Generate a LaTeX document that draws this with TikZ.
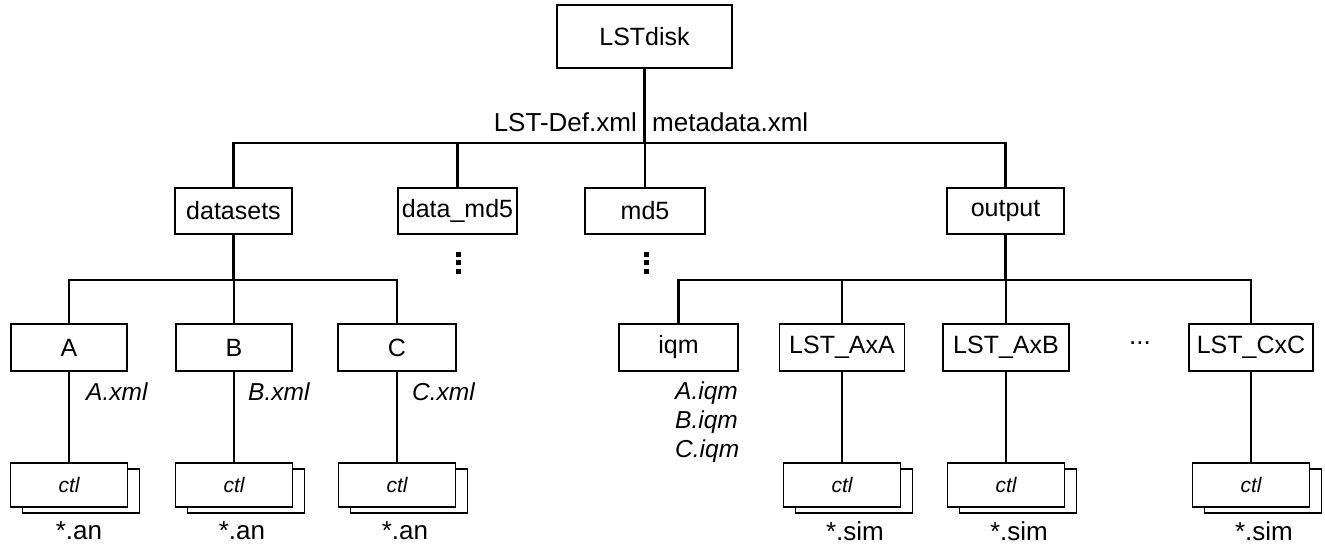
\documentclass[tikz,border=0pt]{standalone}
\usepackage{fontspec}
\setmainfont{Liberation Sans}
\begin{document}
\begin{tikzpicture}[x=1pt,y=-1pt,
  box/.style={draw,line width=1.6pt,minimum height=46pt,inner sep=0pt,font=\fontsize{25}{28}\selectfont},
  conn/.style={line width=2.2pt},
  lbl/.style={font=\fontsize{26}{29}\selectfont,inner sep=0pt},
  ilbl/.style={font=\fontsize{24.5}{27}\selectfont\itshape,inner sep=0pt},
  ctlbox/.style={draw,fill=white,line width=1.6pt,minimum width=117pt,minimum height=44pt,inner sep=0pt,font=\fontsize{21}{23}\selectfont\itshape},
  dotsq/.style={fill=black,minimum size=5pt,inner sep=0pt}
]
\useasboundingbox (0,0) rectangle (1325,545);

% root
\node[box,line width=1.2pt,minimum width=175pt,minimum height=63pt] (root) at (644.5,36.5) {LSTdisk};

% level 2
\node[box,minimum width=117pt] (datasets) at (233.5,211) {datasets};
\node[box,minimum width=119pt] (datamd5) at (457.5,211) {data\_md5};
\node[box,minimum width=120pt] (md5) at (645,211) {md5};
\node[box,minimum width=117pt] (output) at (1005.5,211) {output};

% level 3
\node[box,minimum width=116pt,minimum height=47pt] (A) at (69,347.5) {A};
\node[box,minimum width=116pt,minimum height=47pt] (B) at (234,347.5) {B};
\node[box,minimum width=118pt,minimum height=47pt] (C) at (397,347.5) {C};
\node[box,minimum width=119pt,minimum height=47pt] (iqm) at (678.5,347.5) {iqm};
\node[box,minimum width=125pt,minimum height=47pt] (axa) at (842,347.5) {LST\_AxA};
\node[box,minimum width=126pt,minimum height=47pt] (axb) at (1006,347.5) {LST\_AxB};
\node[box,minimum width=124pt,minimum height=47pt] (cxc) at (1251,347.5) {LST\_CxC};
\node[lbl] (ell) at (1140,343) {...};

% ctl stacks
\foreach \n/\x in {A/69,B/234,C/397,axa/842,axb/1006,cxc/1251}{
  \node[ctlbox] (ctlback\n) at (\x+12,491) {};
  \node[ctlbox] (ctl\n) at (\x,485) {ctl};
}

% bus coordinates
\coordinate (b1) at (0,143);
\coordinate (b2) at (0,280);

% connectors top
\draw[conn] (root.south) -- (root.south |- b1);
\draw[conn] (datasets.north) -- (datasets.north |- b1) -| (output.north);
\draw[conn] (datamd5.north) -- (datamd5.north |- b1);
\draw[conn] (md5.north) -- (md5.north |- b1);

% datasets subtree
\draw[conn] (datasets.south) -- (datasets.south |- b2);
\draw[conn] (A.north) -- (A.north |- b2) -| (C.north);
\draw[conn] (B.north) -- (B.north |- b2);

% output subtree
\draw[conn] (output.south) -- (output.south |- b2);
\draw[conn] (iqm.north) -- (iqm.north |- b2) -| (cxc.north);
\draw[conn] (axa.north) -- (axa.north |- b2);
\draw[conn] (axb.north) -- (axb.north |- b2);

% down to ctl
\foreach \n in {A,B,C,axa,axb,cxc}{
  \draw[conn] (\n.south) -- (ctl\n.north);
}

% vertical dots
\foreach \c/\x in {d1/458,d2/646}{
  \node[dotsq] (\c a) at (\x,254.5) {};
  \node[dotsq] (\c b) at (\x,263) {};
  \node[dotsq] (\c c) at (\x,271.5) {};
}

% labels
\node[lbl,anchor=east] (lstdef) at (637,122) {LST-Def.xml};
\node[lbl,anchor=west] (meta) at (652,122) {metadata.xml};

\node[ilbl,anchor=west] (axml) at (86,392) {A.xml};
\node[ilbl,anchor=west] (bxml) at (248,392) {B.xml};
\node[ilbl,anchor=west] (cxml) at (412,392) {C.xml};

\node[ilbl,anchor=west] (aiqm) at (675,393) {A.iqm};
\node[ilbl,anchor=west] (biqm) at (675,422) {B.iqm};
\node[ilbl,anchor=west] (ciqm) at (675,451) {C.iqm};

\node[lbl] (anA) at (79,531) {*.an};
\node[lbl] (anB) at (242,531) {*.an};
\node[lbl] (anC) at (405,531) {*.an};
\node[lbl] (simA) at (855,531) {*.sim};
\node[lbl] (simB) at (1019,531) {*.sim};
\node[lbl] (simC) at (1264,531) {*.sim};
\end{tikzpicture}
\end{document}
